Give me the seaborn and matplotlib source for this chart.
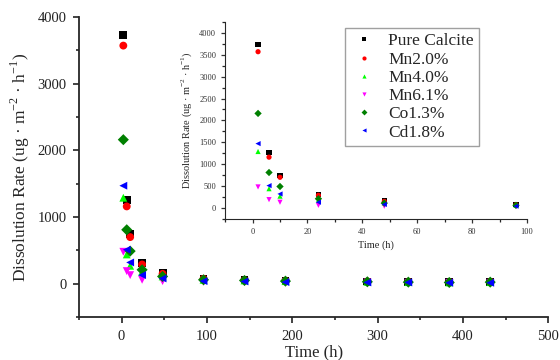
import pandas as pd
import numpy as np
import matplotlib
matplotlib.use("Agg")
import matplotlib.pyplot as plt
import seaborn as sns
from matplotlib.ticker import MultipleLocator

# time points (h)
times = [2, 6, 10, 24, 48, 96, 144, 192, 288, 336, 384, 432]
samples = ["Pure Calcite", "Mn2.0%", "Mn4.0%", "Mn6.1%", "Co1.3%", "Cd1.8%"]

# dissolution rate (ug m-2 h-1)
pure_calcite = [3730, 1260, 740, 310, 160, 80, 60, 45, 35, 30, 25, 30]
mn20 = [3570, 1160, 700, 290, 150, 75, 55, 45, 35, 30, 25, 30]
mn40 = [1290, 440, 270, 180, 110, 60, 50, 40, 30, 25, 20, 25]
mn61 = [480, 190, 130, 60, 40, 30, 25, 20, 20, 15, 15, 15]
co13 = [2160, 810, 490, 210, 110, 60, 50, 40, 30, 25, 20, 25]
cd18 = [1470, 510, 320, 130, 80, 40, 35, 25, 20, 20, 15, 15]

colors = ["black", "red", "#00ff00", "magenta", "green", "blue"]
markers = ["s", "o", "^", "v", "D", "<"]

series = [pure_calcite, mn20, mn40, mn61, co13, cd18]
df = pd.concat([pd.DataFrame({"Time": times, "Rate": v, "Sample": s})
                for s, v in zip(samples, series)], ignore_index=True)
df_in = df[df["Time"] <= 96]

sns.set_style("ticks")
plt.rcParams['font.family'] = ['Liberation Serif', 'DejaVu Serif']
plt.rcParams['mathtext.fontset'] = 'custom'
plt.rcParams['mathtext.rm'] = 'Liberation Serif'
plt.rcParams['xtick.direction'] = 'out'
plt.rcParams['ytick.direction'] = 'out'

pal = dict(zip(samples, colors))
mk = dict(zip(samples, markers))

fig = plt.figure(figsize=(5.6, 3.6), dpi=100)
ax = fig.add_axes([0.141, 0.119, 0.838, 0.834])
sns.scatterplot(data=df, x="Time", y="Rate", hue="Sample", style="Sample",
                palette=pal, markers=mk, s=32, linewidth=0, ax=ax, legend=False)
ax.set_xlim(-50, 500)
ax.set_ylim(-500, 4000)
ax.xaxis.set_major_locator(MultipleLocator(100))
ax.xaxis.set_minor_locator(MultipleLocator(50))
ax.yaxis.set_major_locator(MultipleLocator(1000))
ax.yaxis.set_minor_locator(MultipleLocator(500))
ax.tick_params(which='major', length=4, width=1.2, labelsize=10.5, colors='#222222', pad=5)
ax.tick_params(which='minor', length=2.5, width=1.2)
sns.despine(ax=ax)
for sp in ax.spines.values():
    sp.set_linewidth(1.3)
ax.set_xlabel("Time (h)", fontsize=12, labelpad=1)
ax.set_ylabel(r"Dissolution Rate (ug · m$^{\mathregular{-2}}$ · h$^{\mathregular{-1}}$)", fontsize=12.5)

# inset
ins = fig.add_axes([0.402, 0.392, 0.539, 0.547])
sns.scatterplot(data=df_in, x="Time", y="Rate", hue="Sample", style="Sample",
                palette=pal, markers=mk, s=14, linewidth=0, ax=ins)
ins.set_xlim(-10, 100)
ins.set_ylim(-250, 4250)
ins.xaxis.set_major_locator(MultipleLocator(20))
ins.xaxis.set_minor_locator(MultipleLocator(10))
ins.yaxis.set_major_locator(MultipleLocator(500))
ins.yaxis.set_minor_locator(MultipleLocator(250))
ins.tick_params(which='major', length=3, width=0.9, labelsize=6, colors='#333333')
ins.tick_params(which='minor', length=2, width=0.9)
ins.set_facecolor('none')
sns.despine(ax=ins)
ins.set_xlabel("Time (h)", fontsize=7.5, labelpad=3)
ins.set_ylabel(r"Dissolution Rate (ug · m$^{\mathregular{-2}}$ · h$^{\mathregular{-1}}$)", fontsize=7.5)

leg = ins.legend(loc="upper left", bbox_to_anchor=(345 / 560, 1 - 28 / 360),
                 bbox_transform=fig.transFigure, borderaxespad=0,
                 fontsize=12.5, frameon=True,
                 fancybox=False, edgecolor='#888888', labelspacing=0.12,
                 handlelength=1.6, handletextpad=0.6, borderpad=0.3,
                 markerscale=0.8)
leg.get_frame().set_linewidth(1.0)

fig.savefig("out.png", dpi=100)
